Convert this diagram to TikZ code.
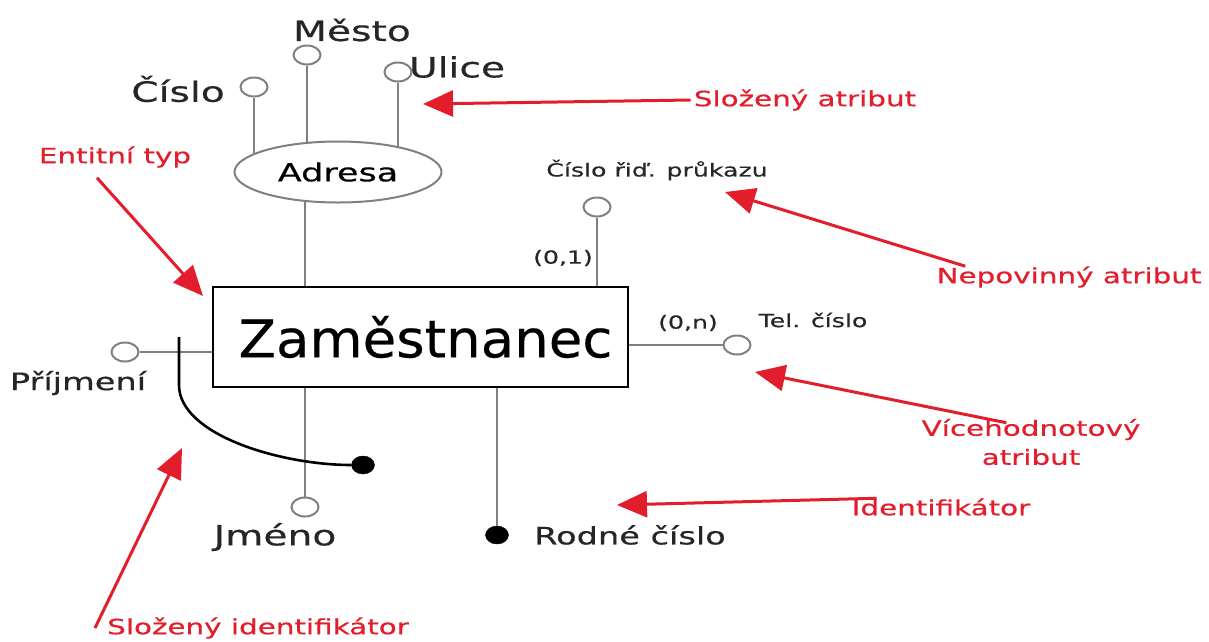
\documentclass[tikz,border=0pt]{standalone}
\usepackage{fontspec}
\setmainfont{DejaVu Sans}[FakeStretch=1.4, FakeBold=0.5]
\newfontfamily\entfont{DejaVu Sans}[FakeStretch=1.05, FakeBold=0.4]
\usetikzlibrary{shapes.geometric,arrows.meta,backgrounds}

\definecolor{notered}{RGB}{226,30,44}
\definecolor{linegray}{RGB}{128,128,128}

\tikzset{
  entity/.style={draw, line width=2.6pt, minimum width=415pt, minimum height=100pt,
    inner sep=0pt, font=\entfont\fontsize{52}{56}\selectfont},
  composite/.style={ellipse, draw=linegray, line width=2pt, fill=white,
    minimum width=207pt, minimum height=61pt, inner sep=0pt, font=\fontsize{25}{28}\selectfont},
  attr/.style={ellipse, draw=linegray, line width=2pt, fill=white,
    minimum width=27pt, minimum height=19pt, inner sep=0pt},
  idattr/.style={ellipse, draw=black, fill=black, minimum width=23pt, minimum height=18pt, inner sep=0pt},
  link/.style={draw=linegray, line width=2.2pt},
  lblbig/.style={inner sep=0pt, text=black!85, font=\fontsize{28}{32}\selectfont},
  lblmid/.style={inner sep=0pt, text=black!85, font=\fontsize{24}{28}\selectfont},
  lblsmall/.style={inner sep=0pt, text=black!85, font=\fontsize{18}{22}\selectfont},
  annot/.style={inner sep=0pt, text=notered, align=center, font=\fontsize{21}{29}\selectfont},
  pointer/.style={draw=notered, line width=3pt, -{Triangle[length=30pt, width=26pt]}}
}

\begin{document}
\begin{tikzpicture}[x=1pt, y=-1pt]
\useasboundingbox (0,0) rectangle (1209,641);

% Entity and composite attribute
\node[entity] (emp) at (420.5,337) {\hspace*{10pt}Zaměstnanec};
\node[composite] (adresa) at (338,172) {Adresa};

% Attributes
\node[attr] (cislo) at (254,87) {};
\node[attr] (mesto) at (307,55) {};
\node[attr] (ulice) at (398,72) {};
\node[attr] (ridic) at (597,207) {};
\node[attr] (tel) at (737,345) {};
\node[attr] (prijmeni) at (125,352) {};
\node[attr] (jmeno) at (305,507) {};
\node[idattr] (rodne) at (497,535) {};
\node[idattr] (slozId) at (363,465) {};

% Labels
\node[lblbig] (cisloL) at (178,89) {Číslo};
\node[lblbig] (mestoL) at (352,30) {Město};
\node[lblbig] (uliceL) at (457,67) {Ulice};
\node[lblsmall] (ridicL) at (657,170) {Číslo řiď. průkazu};
\node[lblsmall] (ridicC) at (563,258) {(0,1)};
\node[lblsmall] (telC) at (688,323) {(0,n)};
\node[lblsmall] (telL) at (813,320) {Tel. číslo};
\node[lblmid] (prijmeniL) at (78,383) {Příjmení};
\node[lblbig] (jmenoL) at (275,537) {Jméno};
\node[lblmid] (rodneL) at (630,535) {Rodné číslo};

% Connectors
\begin{scope}[on background layer]
  \draw[link] (cislo) -- (cislo |- adresa.center);
  \draw[link] (mesto) -- (mesto |- adresa.center);
  \draw[link] (ulice) -- (ulice |- adresa.center);
  \draw[link] (jmeno |- adresa.center) -- (jmeno |- emp.north);
\end{scope}
\draw[link] (ridic) -- (ridic |- emp.north);
\draw[link] (emp.east |- tel) -- (tel);
\draw[link] (prijmeni) -- (emp.west |- prijmeni);
\draw[link] (jmeno) -- (jmeno |- emp.south);
\draw[link] (rodne) -- (rodne |- emp.south);

% Composite identifier
\coordinate (slozIdTop) at (179,337);
\draw[line width=2.6pt] (slozIdTop) -- ++(0,48) .. controls +(0,50) and +(-70,0) .. (slozId.west);

% Annotations
\node[annot] (slozAttrL) at (805,100) {Složený atribut};
\node[annot] (entL) at (115,157) {Entitní typ};
\node[annot] (nepL) at (1069,277) {Nepovinný atribut};
\node[annot] (vicL) at (1031,442) {Vícehodnotový\\atribut};
\node[annot] (idL) at (941,507) {Identifikátor};
\node[annot] (sidL) at (258,628) {Složený identifikátor};

\coordinate (slozAttrTip) at (423,104);
\coordinate (entTip) at (203,296);
\coordinate (nepTip) at (725,192);
\coordinate (vicTip) at (755,372);
\coordinate (idTip) at (617,505);
\coordinate (sidTip) at (182,448);

\draw[pointer] ([xshift=-3pt]slozAttrL.west) -- (slozAttrTip);
\draw[pointer] ([xshift=-18pt,yshift=-10pt]entL.south) -- (entTip);
\draw[pointer] ([xshift=29pt]nepL.north west) -- (nepTip);
\draw[pointer] ([xshift=85pt,yshift=-4pt]vicL.north west) -- (vicTip);
\draw[pointer] ([xshift=25pt]idL.north west) -- (idTip);
\draw[pointer] ([xshift=-12pt]sidL.west) -- (sidTip);
\end{tikzpicture}
\end{document}
